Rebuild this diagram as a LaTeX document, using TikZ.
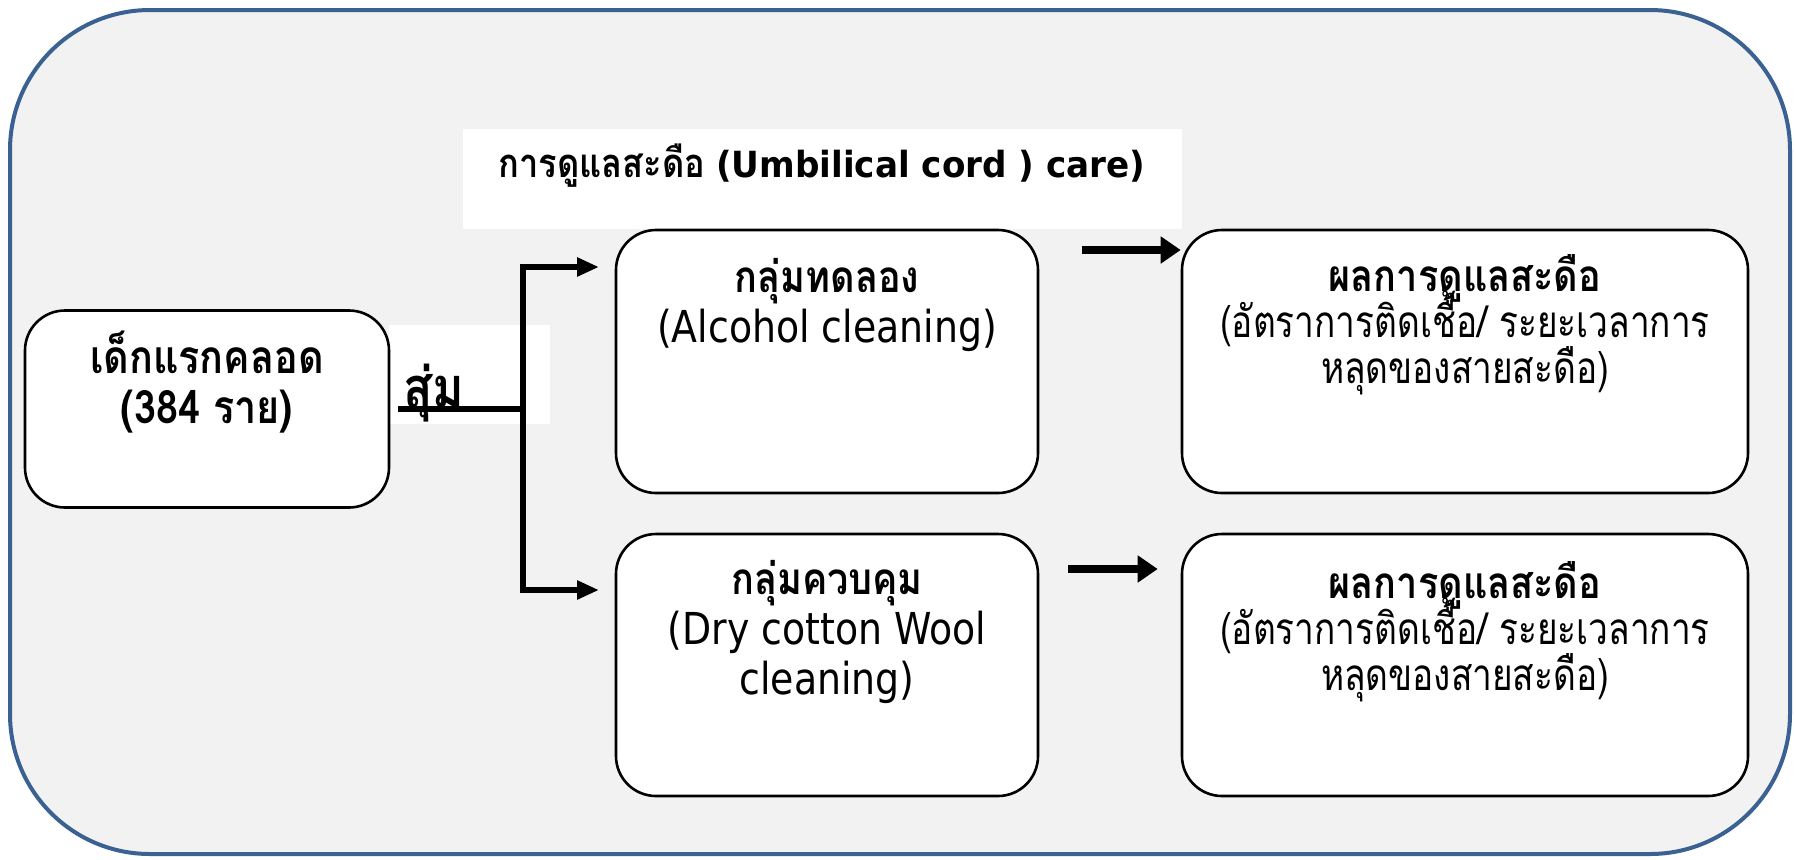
\documentclass[tikz,border=0pt]{standalone}
\usepackage{fontspec}
\setmainfont{DejaVu Sans}[FakeStretch=0.86]
\newfontfamily\thaifont{Loma}[Script=Thai,FakeStretch=0.86]
\newfontfamily\thainarrow{Loma}[Script=Thai,FakeStretch=0.8]
\newfontfamily\titlefont{DejaVu Sans}[FakeStretch=0.95]
\usetikzlibrary{arrows.meta}
\definecolor{framebg}{HTML}{F2F2F2}
\definecolor{frameblue}{HTML}{3A6191}
\tikzset{
  flowbox/.style={draw=black, line width=1.3pt, fill=white, rounded corners=20pt, inner sep=0pt},
  boxtext/.style={align=center, inner sep=0pt, font={\fontsize{22}{25}\selectfont}},
  thaitext/.style={align=center, inner sep=0pt,
    font={\thaifont\fontsize{22}{23.2}\selectfont\lineskiplimit-100pt}},
  flowline/.style={line width=3pt, line join=miter},
  bigarrow/.style={line width=4pt, -{Triangle[length=10pt,width=13pt]}},
}
\begin{document}
\begin{tikzpicture}[x=0.5pt,y=-0.5pt]
\useasboundingbox (0,0) rectangle (1796,859);

% outer frame
\path[draw=frameblue, line width=2pt, fill=framebg, rounded corners=70pt]
  (10,10) rectangle (1790,854);

% heading on white band
\node[fill=white, minimum width=359.5pt, minimum height=50pt, inner sep=0pt] (titlebg) at (822.5,179) {};
\node[inner sep=0pt, font={\bfseries\fontsize{18}{22}\selectfont}] (title) at (822,166)
  {{\thaifont\bfseries\fontsize{20}{22}\selectfont การดูแลสะดือ} {\titlefont\bfseries (Umbilical cord ) care)}};

% white patch behind the sampling label
\node[fill=white, minimum width=80.5pt, minimum height=49.5pt, inner sep=0pt] (randbg) at (469.5,374.5) {};

% boxes
\node[flowbox, minimum width=182pt, minimum height=98.5pt] (baby) at (207,409) {};
\node[flowbox, minimum width=211pt, minimum height=131.5pt] (exp) at (827,361.5) {};
\node[flowbox, minimum width=211pt, minimum height=131pt] (ctl) at (827,665) {};
\node[flowbox, minimum width=283pt, minimum height=131.5pt] (res1) at (1465,361.5) {};
\node[flowbox, minimum width=283pt, minimum height=131pt] (res2) at (1465,665) {};

% box texts
\node[thaitext, anchor=north, font={\thaifont\bfseries\fontsize{23}{25}\selectfont\lineskiplimit-100pt}]
  (babytxt) at ([yshift=-10.5pt]baby.north) {เด็กแรกคลอด\\(384 ราย)};
\node[boxtext, anchor=north] (exptxt) at ([yshift=-14.5pt]exp.north)
  {{\thaifont\bfseries กลุ่มทดลอง}\\(Alcohol cleaning)};
\node[boxtext, anchor=north] (ctltxt) at ([yshift=-13.5pt]ctl.north)
  {{\thaifont\bfseries กลุ่มควบคุม}\\(Dry cotton Wool\\cleaning)};
\node[thaitext, anchor=north] (res1txt) at ([yshift=-12.5pt]res1.north)
  {{\bfseries ผลการดูแลสะดือ}\\{\thainarrow (อัตราการติดเชื้อ/ ระยะเวลาการ}\\{\thainarrow หลุดของสายสะดือ)}};
\node[thaitext, anchor=north] (res2txt) at ([yshift=-14pt]res2.north)
  {{\bfseries ผลการดูแลสะดือ}\\{\thainarrow (อัตราการติดเชื้อ/ ระยะเวลาการ}\\{\thainarrow หลุดของสายสะดือ)}};

% split connector
\coordinate (split) at (523,409);
\coordinate (topTip) at (599,267);
\coordinate (botTip) at (599,590);
\draw[flowline] ([xshift=4pt]baby.east |- split) -- (split);
\draw[flowline, -{Triangle[length=11pt,width=9pt]}] (split) |- (topTip);
\draw[flowline, -{Triangle[length=11pt,width=9pt]}] (split) |- (botTip);

% sampling label
\node[inner sep=0pt, anchor=base, font={\thaifont\bfseries\fontsize{28}{30}\selectfont}] (rand) at (434,407) {สุ่ม};

% result arrows
\coordinate (a1) at (1082,250);
\coordinate (a2) at (1068,569);
\draw[bigarrow] (a1) -- (res1.west |- a1);
\draw[bigarrow] (a2) -- ([xshift=-11.5pt]res2.west |- a2);
\end{tikzpicture}
\end{document}
